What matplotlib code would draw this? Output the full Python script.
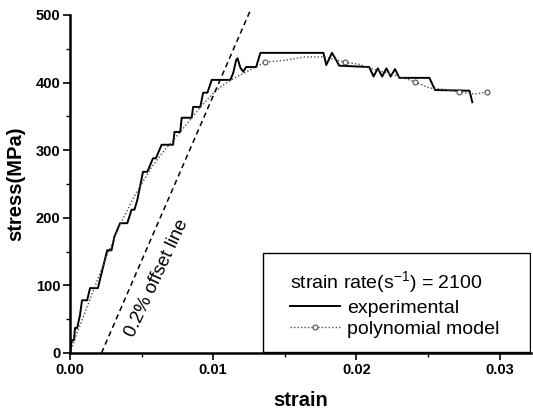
import matplotlib
matplotlib.use("Agg")
import matplotlib.pyplot as plt
from matplotlib.patches import Rectangle
from matplotlib.ticker import MultipleLocator, FormatStrFormatter

plt.rcParams['font.family'] = ['Liberation Sans', 'DejaVu Sans']
plt.rcParams['mathtext.fontset'] = 'custom'
plt.rcParams['mathtext.rm'] = 'Liberation Sans'

# ---------------------------------------------------------
# DATA
# ---------------------------------------------------------
exp_strain = [0.0, 0.00007, 0.00014, 0.00028, 0.00035, 0.0005, 0.0007, 0.00084,
              0.0012, 0.0014, 0.00195, 0.0026, 0.0029, 0.0031, 0.0035, 0.0040,
              0.0043, 0.0045, 0.0047, 0.0051, 0.0054, 0.0058, 0.0060, 0.0064,
              0.0072, 0.0073, 0.0077, 0.0078, 0.0085, 0.0086, 0.0091, 0.0093,
              0.0096, 0.0099, 0.0112, 0.0114, 0.0116, 0.0117, 0.0119, 0.0121,
              0.0123, 0.0130, 0.0133, 0.0177, 0.0179, 0.0183, 0.0186, 0.0188,
              0.0209, 0.0212, 0.0215, 0.0218, 0.0221, 0.0224, 0.0227, 0.0230,
              0.0251, 0.0255, 0.0279, 0.0281]
exp_stress = [0, 12, 19, 19, 37, 37, 56, 78,
              78, 96, 96, 152, 152, 172, 192, 192,
              212, 212, 226, 268, 268, 288, 288, 308,
              308, 327, 327, 348, 348, 364, 364, 385,
              385, 404, 404, 414, 433, 436, 422, 416,
              423, 423, 444, 444, 426, 444, 433, 425,
              423, 409, 421, 409, 421, 409, 420, 407,
              407, 389, 388, 371]

poly_strain = [0.0, 0.0005, 0.0015, 0.0025, 0.0035, 0.0045, 0.0057, 0.0066,
               0.0075, 0.0084, 0.0092, 0.0100, 0.0108, 0.0116, 0.0126, 0.0136,
               0.0150, 0.0164, 0.0178, 0.0192, 0.0202, 0.0213, 0.0227, 0.0241,
               0.0251, 0.0262, 0.0272, 0.0283, 0.0291]
poly_stress = [0, 30, 85, 140, 190, 232, 275, 300,
               322, 345, 366, 384, 398, 408, 419, 430,
               433, 438, 438, 430, 427, 419, 411, 401,
               392, 390, 386, 383, 386]

offset_strain = [0.0022, 0.0126]
offset_stress = [0, 507]

# ---------------------------------------------------------
# PLOT
# ---------------------------------------------------------
fig = plt.figure(figsize=(5.33, 4.15), dpi=100)
ax = fig.add_axes([0.1313, 0.1494, 0.865, 0.8145])

ax.plot(exp_strain, exp_stress, color="black", lw=1.4, label="experimental")
ax.plot(poly_strain, poly_stress, color="0.3", lw=1.0, linestyle=(0, (1, 1.5)),
        marker="o", ms=3.5, mfc="white", mec="0.3", mew=0.8,
        markevery=[15, 19, 23, 26, 28], label="polynomial model")
ax.plot(offset_strain, offset_stress, color="black", lw=1.1,
        linestyle=(0, (3.5, 2.5)), clip_on=False)

ax.text(0.0061, 110, "0.2% offset line", rotation=65, fontsize=13.5,
        ha="center", va="center", rotation_mode="anchor")

ax.set_xlim(0, 0.0322)
ax.set_ylim(0, 500)
ax.xaxis.set_major_locator(MultipleLocator(0.01))
ax.xaxis.set_minor_locator(MultipleLocator(0.005))
ax.yaxis.set_major_locator(MultipleLocator(100))
ax.yaxis.set_minor_locator(MultipleLocator(50))
ax.xaxis.set_major_formatter(FormatStrFormatter("%.2f"))

for s in ["top", "right"]:
    ax.spines[s].set_visible(False)
for s in ["left", "bottom"]:
    ax.spines[s].set_linewidth(1.8)

ax.tick_params(which="major", direction="out", length=5, width=1.2,
               labelsize=10.5, pad=2)
ax.tick_params(which="minor", direction="out", length=3, width=1.0)
for lab in ax.get_xticklabels() + ax.get_yticklabels():
    lab.set_fontweight("bold")

ax.set_xlabel("strain", fontsize=14.5, fontweight="bold", labelpad=10)
ax.set_ylabel("stress(MPa)", fontsize=14.5, fontweight="bold", labelpad=7)

# legend box
ax.add_patch(Rectangle((0.419, 0.003), 0.579, 0.293, transform=ax.transAxes,
                       facecolor="white", edgecolor="black", lw=1.0, zorder=4))
leg = ax.legend(title=r"strain rate(s$^{\mathregular{-1}}$) = 2100",
                loc="upper left", bbox_to_anchor=(0.477, 0.246),
                frameon=False, fontsize=14, title_fontsize=14,
                alignment="left", borderpad=0, borderaxespad=0,
                handlelength=2.6, handletextpad=0.35, labelspacing=0.15)
leg.set_zorder(5)

fig.savefig("out.png", dpi=100)
